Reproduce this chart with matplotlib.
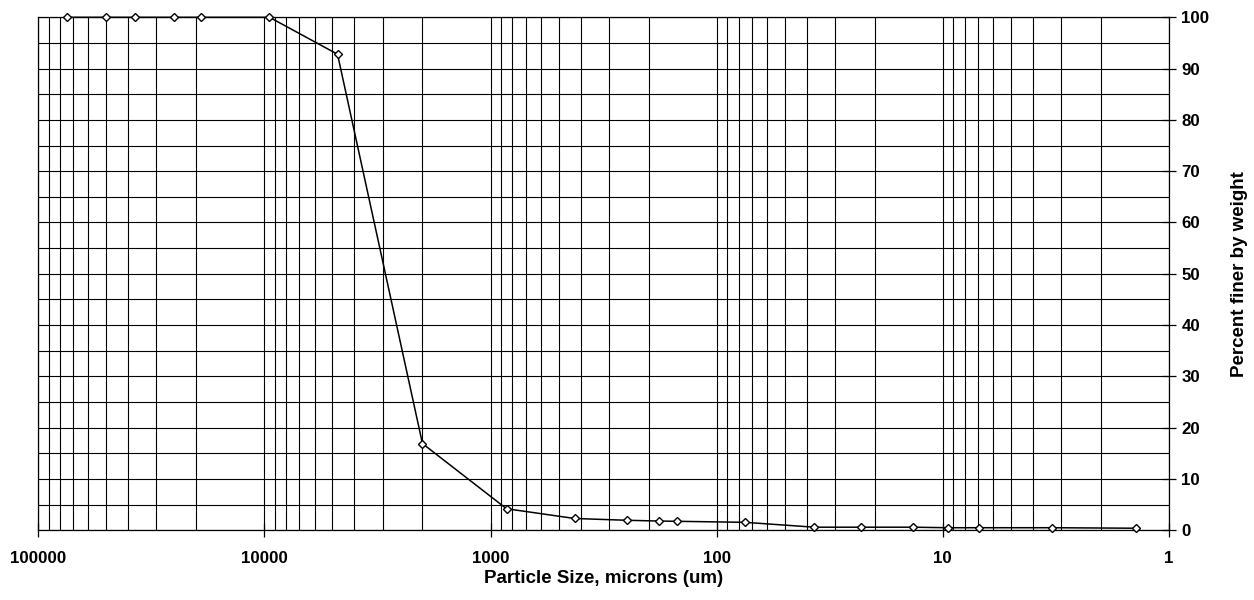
import matplotlib
matplotlib.use("Agg")
import matplotlib.pyplot as plt
from matplotlib.ticker import LogLocator, MultipleLocator, NullFormatter, FixedLocator

plt.rcParams['font.family'] = ['Liberation Sans', 'DejaVu Sans']

# tamaños de partícula (micras) y porcentaje que pasa
sizes = [75000, 50000, 37500, 25000, 19000, 9500, 4750, 2000, 850, 425,
         250, 180, 150, 75, 37, 23, 13.5, 9.5, 6.9, 3.3, 1.4]
finer = [100, 100, 100, 100, 100, 100, 92.8, 16.9, 4.2, 2.3,
         1.95, 1.8, 1.75, 1.55, 0.6, 0.6, 0.6, 0.5, 0.5, 0.5, 0.4]

x_ticks = [100000, 10000, 1000, 100, 10, 1]
x_labels = ['100000', '10000', '1000', '100', '10', '1']

fig = plt.figure(figsize=(12.54, 6.0), dpi=100)
ax = fig.add_axes([0.0305, 0.1162, 0.9017, 0.855])

ax.plot(sizes, finer, color='black', lw=1.1, marker='D', ms=4.4,
        mfc='white', mec='black', mew=1.0, zorder=5, clip_on=False)

ax.set_xscale('log')
ax.set_xlim(100000, 1)
ax.set_ylim(0, 100)

ax.xaxis.set_major_locator(FixedLocator(x_ticks))
ax.set_xticklabels(x_labels)
ax.xaxis.set_minor_locator(LogLocator(base=10, subs=range(2, 10)))
ax.xaxis.set_minor_formatter(NullFormatter())

ax.yaxis.tick_right()
ax.yaxis.set_label_position('right')
ax.yaxis.set_major_locator(MultipleLocator(10))
ax.yaxis.set_minor_locator(MultipleLocator(5))

ax.grid(True, which='both', color='black', lw=0.8)
ax.set_axisbelow(True)

ax.tick_params(which='major', direction='inout', length=10, width=0.9,
               labelsize=12.2)
ax.tick_params(axis='x', which='major', pad=10)
ax.tick_params(axis='y', which='major', pad=4)
ax.tick_params(which='minor', length=0)
for lab in ax.get_xticklabels() + ax.get_yticklabels():
    lab.set_fontweight('bold')

for s in ax.spines.values():
    s.set_linewidth(0.9)
    s.set_color('black')

ax.set_xlabel('Particle Size, microns (um)', fontsize=13.5, fontweight='bold')
ax.set_ylabel('Percent finer by weight', fontsize=13.5, fontweight='bold')
ax.xaxis.set_label_coords(0.5, -0.094)
ax.xaxis.label.set_va('center')
ax.yaxis.set_label_coords(1.062, 0.5)
ax.yaxis.label.set_va('center')

fig.savefig('out.png', dpi=100)
